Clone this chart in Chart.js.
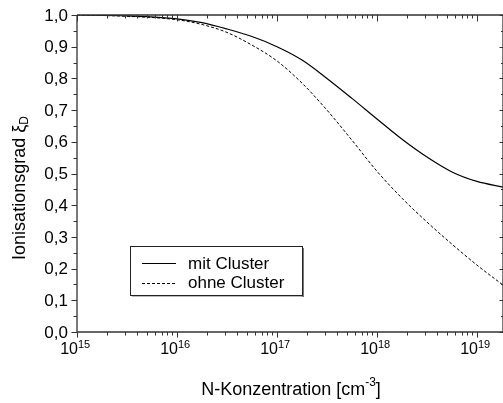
<!DOCTYPE html>
<html>
<head>
<meta charset="utf-8">
<script src="https://cdn.jsdelivr.net/npm/chart.js@4"></script>
<style>
  html, body { margin: 0; padding: 0; background: #fff; }
  #wrap { width: 503px; height: 403px; }
</style>
</head>
<body>
<div id="wrap"><canvas id="myChart" width="503" height="403"></canvas></div>
<script>
const ctx = document.getElementById('myChart');

// N-Konzentration in cm^-3
const concentration = [1e15, 3.16e15, 1e16, 1.78e16, 3.16e16, 5.62e16, 1e17, 1.78e17, 3.16e17,
    5.62e17, 1e18, 1.78e18, 3.16e18, 5.62e18, 1e19, 1.82e19];
// Ionisationsgrad
const mitCluster = [1.0, 0.997, 0.988, 0.976, 0.956, 0.932, 0.90, 0.858, 0.80,
    0.737, 0.672, 0.608, 0.552, 0.505, 0.475, 0.457];
const ohneCluster = [1.0, 0.996, 0.985, 0.97, 0.945, 0.905, 0.855, 0.785, 0.70,
    0.605, 0.507, 0.422, 0.347, 0.277, 0.211, 0.148];

const xDecades = [15, 16, 17, 18, 19];
const yTickLabels = ['0,0', '0,1', '0,2', '0,3', '0,4', '0,5', '0,6', '0,7', '0,8', '0,9', '1,0'];
const seriesNames = ['mit Cluster', 'ohne Cluster'];

const FONT = '"Liberation Sans", Arial, sans-serif';

function toPoints(ys) {
    return concentration.map((c, i) => ({ x: c, y: ys[i] }));
}

const data1 = {
    label: seriesNames[0],
    data: toPoints(mitCluster),
    borderColor: '#000',
    borderWidth: 1.2,
    pointRadius: 0,
    cubicInterpolationMode: 'monotone',
};

const data2 = {
    label: seriesNames[1],
    data: toPoints(ohneCluster),
    borderColor: '#000',
    borderWidth: 1,
    borderDash: [3, 2],
    pointRadius: 0,
    cubicInterpolationMode: 'monotone',
};

// frame, ticks and labels drawn like the Origin plot
const axesDeco = {
    id: 'axesDeco',
    afterDraw(chart) {
        const c = chart.ctx;
        const a = chart.chartArea;
        const x = chart.scales.x;
        const y = chart.scales.y;
        c.save();
        c.strokeStyle = '#333';
        c.lineWidth = 1.3;
        c.beginPath();
        c.moveTo(a.left, a.top); c.lineTo(a.right, a.top);
        c.moveTo(a.left, a.bottom); c.lineTo(a.right, a.bottom);
        c.moveTo(a.left, a.top); c.lineTo(a.left, a.bottom);
        c.moveTo(a.right, a.top); c.lineTo(a.right, a.bottom);
        c.stroke();

        c.lineWidth = 1;
        c.beginPath();
        xDecades.forEach(d => {
            for (let m = 1; m <= 9; m++) {
                const v = m * Math.pow(10, d);
                if (v > x.max) break;
                const px = Math.round(x.getPixelForValue(v)) + 0.5;
                const major = m === 1;
                c.moveTo(px, a.bottom); c.lineTo(px, a.bottom + (major ? 5.5 : 3.5));
                c.moveTo(px, a.top); c.lineTo(px, a.top + (major ? 6.5 : 3.5));
            }
        });
        for (let i = 0; i <= 20; i++) {
            const py = Math.round(y.getPixelForValue(i / 20)) + 0.5;
            const major = i % 2 === 0;
            c.moveTo(a.left, py); c.lineTo(a.left - (major ? 5.5 : 3.5), py);
            c.moveTo(a.right, py); c.lineTo(a.right - (major ? 3.5 : 2), py);
        }
        c.stroke();

        c.fillStyle = '#000';
        c.font = '17px ' + FONT;
        c.textAlign = 'right';
        c.textBaseline = 'middle';
        yTickLabels.forEach((t, i) => {
            c.fillText(t, a.left - 9, y.getPixelForValue(i / 10) + 1);
        });

        xDecades.forEach(d => {
            const px = x.getPixelForValue(Math.pow(10, d));
            c.font = '16px ' + FONT;
            c.textAlign = 'right';
            c.textBaseline = 'alphabetic';
            c.fillText('10', px + 1, a.bottom + 22);
            c.font = '11px ' + FONT;
            c.textAlign = 'left';
            c.fillText(String(d), px + 1, a.bottom + 16);
        });

        // x title with superscript
        const t1 = 'N-Konzentration [cm';
        c.font = '12px ' + FONT;
        const supW = c.measureText('-3').width;
        c.font = '18px ' + FONT;
        const w1 = c.measureText(t1).width;
        const w2 = c.measureText(']').width;
        let sx = 291 - (w1 + supW + w2) / 2;
        c.textAlign = 'left';
        c.fillText(t1, sx, 395);
        c.font = '12px ' + FONT;
        c.fillText('-3', sx + w1, 386);
        c.font = '18px ' + FONT;
        c.fillText(']', sx + w1 + supW, 395);

        // y title rotated with subscript
        c.translate(25, 188);
        c.rotate(-Math.PI / 2);
        const yt = 'Ionisationsgrad \u03BE';
        const wy = c.measureText(yt).width;
        c.font = '12px ' + FONT;
        const wd = c.measureText('D').width;
        c.font = '18px ' + FONT;
        const sy = -(wy + wd) / 2;
        c.fillText(yt, sy, 0);
        c.font = '12px ' + FONT;
        c.fillText('D', sy + wy, 3);
        c.restore();
    }
};

// legend box inside the plot
const boxLegend = {
    id: 'boxLegend',
    afterDraw(chart) {
        const c = chart.ctx;
        const bx = 130, by = 246, bw = 172, bh = 49;
        c.save();
        c.fillStyle = '#fff';
        c.fillRect(bx, by, bw, bh);
        c.fillStyle = '#777';
        c.fillRect(bx + bw, by + 2, 2, bh);
        c.fillRect(bx + 2, by + bh, bw, 1.5);
        c.strokeStyle = '#222';
        c.lineWidth = 1;
        c.strokeRect(bx + 0.5, by + 0.5, bw, bh);
        c.font = '17px ' + FONT;
        c.textBaseline = 'middle';
        c.fillStyle = '#000';
        chart.data.datasets.forEach((ds, i) => {
            const ly = by + 17 + i * 19.5;
            c.beginPath();
            c.setLineDash(ds.borderDash || []);
            c.lineWidth = ds.borderWidth;
            c.strokeStyle = ds.borderColor;
            c.moveTo(142, Math.round(ly) + 0.5);
            c.lineTo(176, Math.round(ly) + 0.5);
            c.stroke();
            c.fillText(ds.label, 188, ly + 1);
        });
        c.restore();
    }
};

const lineChart = new Chart(ctx, {
    type: 'line',
    data: { datasets: [data1, data2] },
    options: {
        responsive: false,
        animation: false,
        layout: { padding: { left: 77, right: 0, top: 15, bottom: 71 } },
        plugins: {
            legend: { display: false },
            tooltip: { enabled: false },
        },
        scales: {
            x: {
                type: 'logarithmic',
                min: 1e15,
                max: 1.82e19,
                ticks: { display: false },
                grid: { display: false },
                border: { display: false },
                afterFit(s) { s.height = 0; },
            },
            y: {
                min: 0,
                max: 1,
                ticks: { display: false },
                grid: { display: false },
                border: { display: false },
                afterFit(s) { s.width = 0; },
            },
        },
    },
    plugins: [axesDeco, boxLegend],
});
</script>
</body>
</html>
